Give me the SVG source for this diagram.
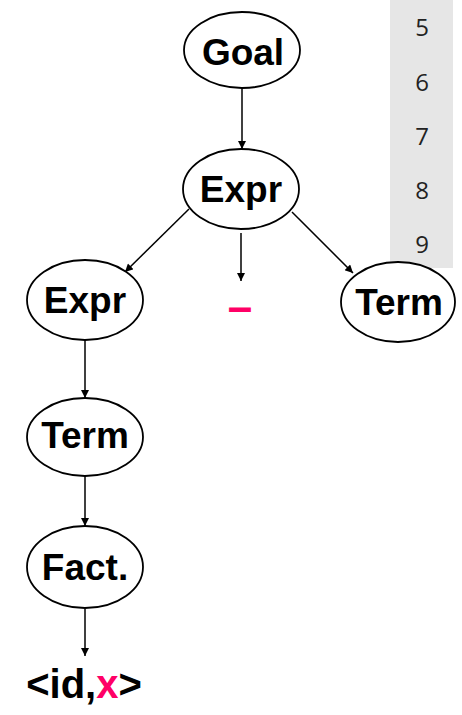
<svg xmlns="http://www.w3.org/2000/svg" width="462" height="715" viewBox="0 0 462 715">
<style>
.n{fill:#fff;stroke:#000;stroke-width:1.8}
.t{font-family:"Liberation Sans",Arial,sans-serif;font-weight:bold;font-size:37px;fill:#000;text-anchor:middle}
.e{stroke:#000;stroke-width:1.5;fill:none;marker-end:url(#ah)}
.num{font-family:"Open Sans","DejaVu Sans",sans-serif;font-size:24px;fill:#222;text-anchor:middle}
</style>
<defs>
<marker id="ah" viewBox="0 0 10 10" refX="10" refY="5" markerWidth="9" markerHeight="8" markerUnits="userSpaceOnUse" orient="auto">
<path d="M0,0 L10,5 L0,10 z" fill="#000"/>
</marker>
</defs>
<rect x="390" y="0" width="63" height="268" fill="#e6e6e6"/>
<g id="numbers">
<text class="num" x="422" y="36">5</text>
<text class="num" x="422" y="91">6</text>
<text class="num" x="422" y="145">7</text>
<text class="num" x="422" y="199">8</text>
<text class="num" x="422" y="253">9</text>
</g>
<g id="edges">
<line class="e" x1="242" y1="88" x2="242" y2="149"/>
<line class="e" x1="189" y1="209" x2="125" y2="272"/>
<line class="e" x1="241" y1="233" x2="241" y2="281"/>
<line class="e" x1="292" y1="212" x2="353" y2="273"/>
<line class="e" x1="85" y1="340" x2="85" y2="398"/>
<line class="e" x1="85" y1="476" x2="85" y2="526"/>
<line class="e" x1="85" y1="609" x2="85" y2="656"/>
</g>
<g id="goal"><ellipse class="n" cx="242" cy="50" rx="58" ry="38"/><text class="t" x="243" y="65">Goal</text></g>
<g id="expr1"><ellipse class="n" cx="241" cy="189" rx="58" ry="40"/><text class="t" x="241" y="202">Expr</text></g>
<g id="expr2"><ellipse class="n" cx="85" cy="300" rx="58" ry="40"/><text class="t" x="85" y="313">Expr</text></g>
<g id="minus"><text class="t" x="240" y="322" style="fill:#ff0066;font-size:44px">–</text></g>
<g id="term1"><ellipse class="n" cx="398" cy="302" rx="57" ry="40"/><text class="t" x="399" y="315">Term</text></g>
<g id="term2"><ellipse class="n" cx="85" cy="437" rx="58" ry="39"/><text class="t" x="85" y="448">Term</text></g>
<g id="fact"><ellipse class="n" cx="85" cy="567" rx="58" ry="41"/><text class="t" x="85" y="580">Fact.</text></g>
<g id="leaf"><text class="t" x="84" y="698" style="font-size:40px">&lt;id,<tspan fill="#ff0066">x</tspan>&gt;</text></g>
</svg>
